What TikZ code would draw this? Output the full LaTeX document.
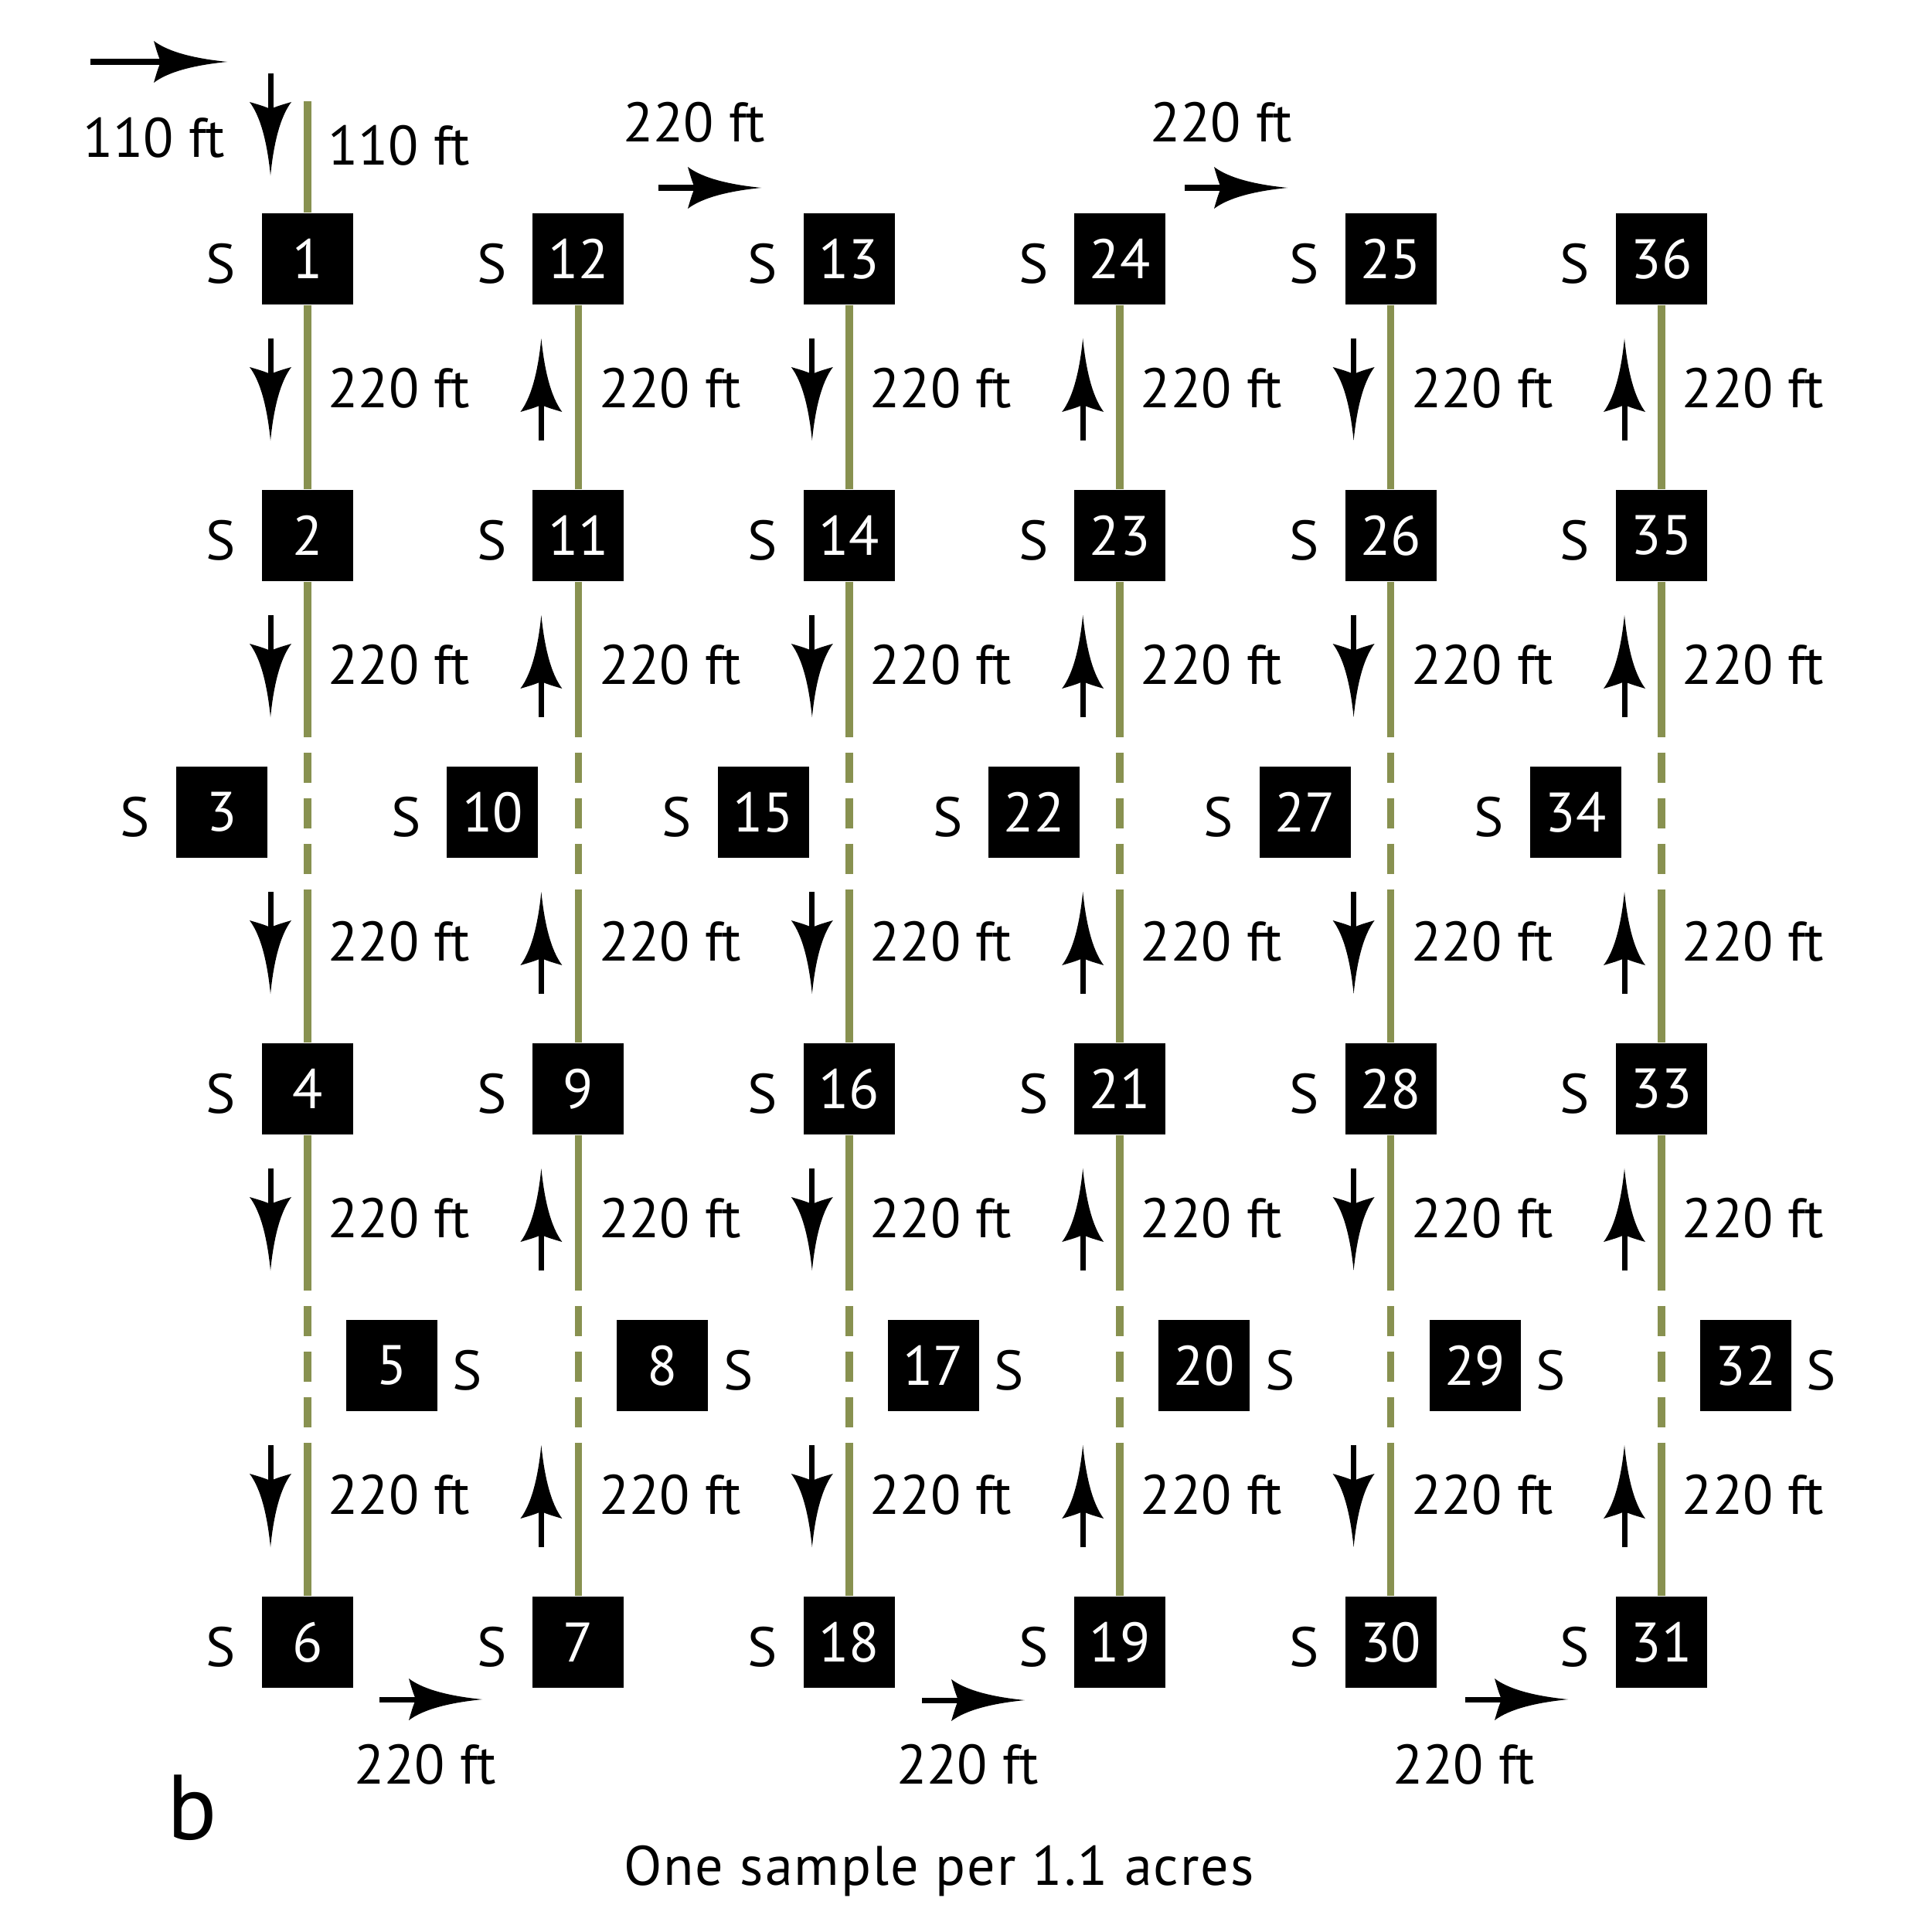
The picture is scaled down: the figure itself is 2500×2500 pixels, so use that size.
\documentclass[tikz,border=0pt]{standalone}
\usepackage{fontspec}
\setmainfont{PT Sans}
\definecolor{olivel}{RGB}{136,145,80}
\newcommand\lblfont{\fontsize{20.5pt}{24pt}\selectfont}
\newcommand\capfont{\fontsize{20.5pt}{24pt}\selectfont\addfontfeatures{LetterSpace=2.8}}
\newcommand\bigfont{\fontsize{34pt}{40pt}\selectfont}
\begin{document}
\begin{tikzpicture}[x=0.01cm,y=-0.01cm,
  box/.style={fill=black,text=white,minimum size=1.18cm,inner sep=0pt,font=\lblfont},
  slbl/.style={anchor=base,inner sep=0pt,font=\lblfont},
  ftlbl/.style={anchor=base west,inner sep=0pt,font=\lblfont},
  ctlbl/.style={anchor=base,inner sep=0pt,font=\lblfont},
  trail/.style={draw=olivel,line width=0.095cm},
  gapdash/.style={dash pattern=on 2.01cm off 0.2cm on 0.39cm off 0.2cm on 0.39cm off 0.2cm on 0.39cm off 0.2cm on 3cm off 1cm},
  pics/dirarrow/.style={code={
    \draw[line width=0.07cm] (-#1,0) -- (-86,0);
    \fill (0,0) .. controls (-40,4) and (-75,12) .. (-95,27)
          .. controls (-90,10) .. (-86,0)
          .. controls (-90,-10) .. (-95,-27)
          .. controls (-75,-12) and (-40,-4) .. (0,0) -- cycle;
  }}]
\useasboundingbox (0,0) rectangle (2500,2500);

% columns of sample boxes
\foreach \i/\na/\nb/\nc/\nd/\ne/\nf in {1/1/2/3/4/5/6, 2/12/11/10/9/8/7, 3/13/14/15/16/17/18, 4/24/23/22/21/20/19, 5/25/26/27/28/29/30, 6/36/35/34/33/32/31} {
  \pgfmathsetmacro\cx{398+350.4*(\i-1)}
  \node[box] (b\na) at (\cx,335) {\na};
  \node[box] (b\nb) at (\cx,693) {\nb};
  \node[box] (b\nc) at (\cx-111,1051) {\nc};
  \node[box] (b\nd) at (\cx,1409) {\nd};
  \node[box] (b\ne) at (\cx+109,1767) {\ne};
  \node[box] (b\nf) at (\cx,2125) {\nf};
  \node[slbl] (s\na) at (\cx-112,366) {S};
  \node[slbl] (s\nb) at (\cx-112,724) {S};
  \node[slbl] (s\nc) at (\cx-223,1082) {S};
  \node[slbl] (s\nd) at (\cx-112,1440) {S};
  \node[slbl] (s\ne) at (\cx+207,1798) {S};
  \node[slbl] (s\nf) at (\cx-112,2156) {S};
  \draw[trail] (b\na) -- (b\nb);
  \draw[trail,gapdash] (b\nb) -- (b\nd);
  \draw[trail,gapdash] (b\nd) -- (b\nf);
  \foreach \m in {514,872,1230,1588,1946} {
    \ifodd\i
      \path (\cx-48,\m+56) pic[rotate=-90] {dirarrow=132};
    \else
      \path (\cx-48,\m-76) pic[rotate=90] {dirarrow=132};
    \fi
    \node[ftlbl] at (\cx+26,\m+13) {220 ft};
  }
}

% start of the walk
\coordinate (start) at (398,131);
\draw[trail] (start) -- (b1);
\path (294,80) pic {dirarrow=177};
\path (350,227) pic[rotate=-90] {dirarrow=132};
\node[ctlbl] (l110a) at (199,204) {110 ft};
\node[ctlbl] (l110b) at (516,213) {110 ft};

% turns at the top
\path (985,243) pic {dirarrow=133};
\path (1666,243) pic {dirarrow=133};
\node[ctlbl] (t1) at (898,183) {220 ft};
\node[ctlbl] (t2) at (1580,183) {220 ft};

% turns at the bottom
\path (624,2199) pic {dirarrow=133};
\path (1326,2200) pic {dirarrow=133};
\path (2029,2199) pic {dirarrow=133};
\node[ctlbl] (u1) at (550,2308) {220 ft};
\node[ctlbl] (u2) at (1252,2308) {220 ft};
\node[ctlbl] (u3) at (1894,2308) {220 ft};

\node[anchor=base west,inner sep=0pt,font=\bigfont] (pan) at (216,2380) {b};
\node[anchor=base,inner sep=0pt,font=\capfont] (cap) at (1215,2439) {One sample per 1.1 acres};
\end{tikzpicture}
\end{document}
